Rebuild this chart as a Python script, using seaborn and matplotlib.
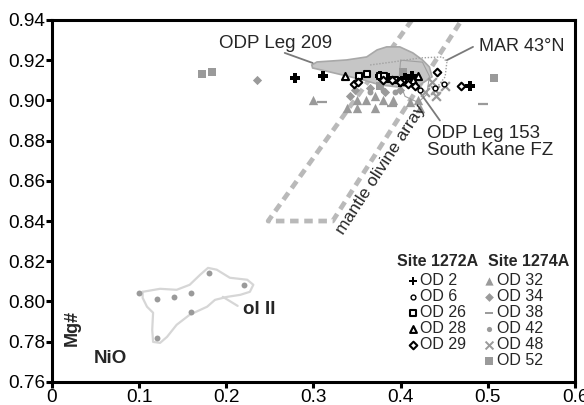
import matplotlib
matplotlib.use('Agg')
import matplotlib.pyplot as plt
import numpy as np
import pandas as pd
import seaborn as sns

# Site 1272A (black)
od2_x = [0.279, 0.311, 0.479, 0.376, 0.405, 0.413, 0.399, 0.386]
od2_y = [0.911, 0.912, 0.907, 0.912, 0.911, 0.912, 0.909, 0.911]
od6_x = [0.439, 0.450, 0.422]
od6_y = [0.906, 0.908, 0.905]
od26_x = [0.352, 0.361, 0.376, 0.381, 0.394, 0.403]
od26_y = [0.912, 0.913, 0.912, 0.912, 0.910, 0.909]
od28_x = [0.336, 0.420, 0.414]
od28_y = [0.912, 0.912, 0.910]
od29_x = [0.347, 0.351, 0.442, 0.469, 0.399, 0.408, 0.390, 0.416, 0.380]
od29_y = [0.908, 0.909, 0.914, 0.907, 0.909, 0.908, 0.910, 0.907, 0.910]

# Site 1274A (grey)
od32_x = [0.299, 0.339, 0.350, 0.350, 0.360, 0.370, 0.370, 0.380, 0.391, 0.411, 0.420, 0.422]
od32_y = [0.900, 0.896, 0.896, 0.900, 0.900, 0.902, 0.896, 0.900, 0.900, 0.899, 0.900, 0.896]
od34_x = [0.235, 0.342, 0.348, 0.365, 0.382, 0.399]
od34_y = [0.910, 0.902, 0.905, 0.906, 0.904, 0.905]
od38_x = [0.310, 0.494, 0.390]
od38_y = [0.899, 0.898, 0.897]
od42_x = [0.10, 0.12, 0.14, 0.16, 0.16, 0.18, 0.22, 0.12, 0.380, 0.393, 0.365]
od42_y = [0.804, 0.801, 0.802, 0.804, 0.795, 0.814, 0.808, 0.782, 0.905, 0.904, 0.904]
od48_x = [0.439, 0.451, 0.441, 0.436, 0.428]
od48_y = [0.905, 0.907, 0.902, 0.909, 0.904]
od52_x = [0.172, 0.183, 0.507, 0.376, 0.403]
od52_y = [0.913, 0.914, 0.911, 0.907, 0.914]

# outlines
leg209_x = [0.298, 0.304, 0.338, 0.361, 0.373, 0.384, 0.399, 0.414, 0.425, 0.433, 0.436,
            0.422, 0.396, 0.376, 0.357, 0.319, 0.299]
leg209_y = [0.9176, 0.9191, 0.9201, 0.9216, 0.9251, 0.9266, 0.9266, 0.9236, 0.9201, 0.9166,
            0.9117, 0.9077, 0.9067, 0.9077, 0.9102, 0.9141, 0.9161]
leg153_x = [0.400, 0.425, 0.433, 0.430, 0.420, 0.405, 0.398, 0.400]
leg153_y = [0.920, 0.919, 0.912, 0.903, 0.899, 0.902, 0.910, 0.920]
mar_x = [0.365, 0.391, 0.422, 0.448, 0.453, 0.451, 0.442]
mar_y = [0.9176, 0.9191, 0.9211, 0.9216, 0.9191, 0.9117, 0.9067]
array_x = [0.413, 0.248, 0.322, 0.470]
array_y = [0.94, 0.84, 0.84, 0.94]
olii_x = [0.104, 0.124, 0.143, 0.158, 0.170, 0.179, 0.189, 0.204, 0.224, 0.231, 0.227, 0.216,
          0.201, 0.187, 0.178, 0.158, 0.143, 0.132, 0.124, 0.116, 0.115, 0.116, 0.109, 0.104, 0.104]
olii_y = [0.8048, 0.8063, 0.8058, 0.8083, 0.8133, 0.8167, 0.8158, 0.8118, 0.8108, 0.8083, 0.8048,
          0.8033, 0.8023, 0.8008, 0.7974, 0.7934, 0.7884, 0.7824, 0.7794, 0.7799, 0.7859, 0.7944,
          0.7974, 0.8018, 0.8048]

xticks = [0, 0.1, 0.2, 0.3, 0.4, 0.5, 0.6]
xticklabels = ['0', '0.1', '0.2', '0.3', '0.4', '0.5', '0.6']
yticks = [0.76, 0.78, 0.80, 0.82, 0.84, 0.86, 0.88, 0.90, 0.92, 0.94]

sns.set_theme(style='ticks')
plt.rcParams['font.family'] = ['Liberation Sans', 'DejaVu Sans']

fig = plt.figure(figsize=(5.84, 4.05), dpi=100)
ax = fig.add_axes([0.089, 0.057, 0.8956, 0.8938])

grey = '#9a9a9a'

# background shapes
ax.fill(leg209_x, leg209_y, facecolor='#c6c6c6', edgecolor='#a8a8a8', lw=1.2, zorder=1)
ax.plot(leg153_x, leg153_y, color='#a0a0a0', lw=0.8, zorder=1)
ax.plot(mar_x, mar_y, color='#a0a0a0', lw=1.0, ls=(0, (1, 1.2)), zorder=1)
ax.plot(array_x, array_y, color='#b9b9b9', lw=3.4, ls=(0, (1.8, 1.2)), zorder=0.5)
ax.plot(olii_x, olii_y, color='#d6d6d6', lw=1.6, zorder=0.5)

samples = [
    (od32_x, od32_y, '^', grey, grey, 45, 0),
    (od34_x, od34_y, 'D', grey, grey, 22, 0),
    (od38_x, od38_y, '_', grey, grey, 45, 1.6),
    (od42_x, od42_y, 'o', grey, grey, 18, 0),
    (od48_x, od48_y, 'x', grey, grey, 40, 1.6),
    (od52_x, od52_y, 's', grey, grey, 40, 0),
    (od2_x, od2_y, 'P', 'black', 'black', 45, 0),
    (od6_x, od6_y, 'o', 'white', 'black', 12, 1.0),
    (od26_x, od26_y, 's', 'white', 'black', 22, 1.5),
    (od28_x, od28_y, '^', 'white', 'black', 26, 1.5),
    (od29_x, od29_y, 'D', 'white', 'black', 15, 1.5),
]
for xs, ys, m, fc, ec, s, lw in samples:
    df = pd.DataFrame({'x': xs, 'y': ys})
    if m in ('_', 'x'):
        sns.scatterplot(data=df, x='x', y='y', marker=m, color=ec, s=s, linewidth=lw, ax=ax, zorder=3)
    else:
        sns.scatterplot(data=df, x='x', y='y', marker=m, facecolor=fc, edgecolor=ec, s=s,
                        linewidth=lw, ax=ax, zorder=3)

# annotations
lc = '#7a7a7a'
ax.text(0.257, 0.9285, 'ODP Leg 209', fontsize=13.5, ha='center', va='center')
ax.plot([0.267, 0.299], [0.9236, 0.9186], color=lc, lw=1.3, zorder=2)
ax.text(0.490, 0.9266, 'MAR 43°N', fontsize=13, ha='left', va='center')
ax.plot([0.453, 0.483], [0.920, 0.9266], color=lc, lw=1.3, zorder=2)
ax.text(0.430, 0.8795, 'ODP Leg 153\nSouth Kane FZ', fontsize=13.5, ha='left', va='center',
        linespacing=1.0)
ax.plot([0.422, 0.445], [0.904, 0.890], color=lc, lw=1.3, zorder=2)
ax.text(0.377, 0.8655, 'mantle olivine array', fontsize=12.5, rotation=57,
        ha='center', va='center')
ax.text(0.219, 0.7962, 'ol II', fontsize=13.5, fontweight='bold', ha='left', va='center')
ax.plot([0.196, 0.213], [0.8023, 0.7978], color='#d6d6d6', lw=1.6, zorder=0.5)
ax.text(0.0665, 0.7715, 'NiO', fontsize=13.5, fontweight='bold', ha='center', va='center')
ax.text(0.023, 0.787, 'Mg#', fontsize=13, fontweight='bold', ha='center', va='center',
        rotation=90)

# legend drawn by hand
ax.text(0.659, 0.334, 'Site 1272A', transform=ax.transAxes, fontsize=11.5, fontweight='bold',
        ha='left', va='center')
ax.text(0.834, 0.334, 'Site 1274A', transform=ax.transAxes, fontsize=11.5, fontweight='bold',
        ha='left', va='center')
rows = [0.279, 0.235, 0.191, 0.147, 0.102, 0.058]
col1 = [('P', 'black', 'black', 40, 0, 'OD 2'), ('o', 'white', 'black', 12, 1.0, 'OD 6'),
        ('s', 'white', 'black', 22, 1.5, 'OD 26'), ('^', 'white', 'black', 24, 1.5, 'OD 28'),
        ('D', 'white', 'black', 15, 1.5, 'OD 29')]
col2 = [('^', grey, grey, 35, 0, 'OD 32'), ('D', grey, grey, 20, 0, 'OD 34'),
        ('_', grey, grey, 40, 1.4, 'OD 38'), ('o', grey, grey, 14, 0, 'OD 42'),
        ('x', grey, grey, 32, 1.4, 'OD 48'), ('s', grey, grey, 32, 0, 'OD 52')]
for (m, fc, ec, s, lw, lab), yy in zip(col1, rows):
    ax.scatter([0.690], [yy], marker=m, facecolor=fc if m not in ('_', 'x') else ec,
               edgecolor=ec, s=s, linewidth=lw, transform=ax.transAxes, zorder=4)
    ax.text(0.703, yy, lab, transform=ax.transAxes, fontsize=11.5, ha='left', va='center')
for (m, fc, ec, s, lw, lab), yy in zip(col2, rows):
    ax.scatter([0.836], [yy], marker=m, facecolor=fc if m not in ('_', 'x') else ec,
               edgecolor=ec, s=s, linewidth=lw, transform=ax.transAxes, zorder=4)
    ax.text(0.850, yy, lab, transform=ax.transAxes, fontsize=11.5, ha='left', va='center')

ax.set_xlim(0, 0.6)
ax.set_ylim(0.76, 0.94)
ax.set_xticks(xticks)
ax.set_xticklabels(xticklabels)
ax.set_yticks(yticks)
ax.set_yticklabels([f'{v:.2f}' for v in yticks])
ax.set_xlabel('')
ax.set_ylabel('')
for sp in ax.spines.values():
    sp.set_linewidth(2.2)
    sp.set_color('black')
ax.tick_params(axis='both', direction='out', length=4, width=2.2, labelsize=13.7,
               colors='black', pad=1)

fig.savefig('out.png', dpi=100)
